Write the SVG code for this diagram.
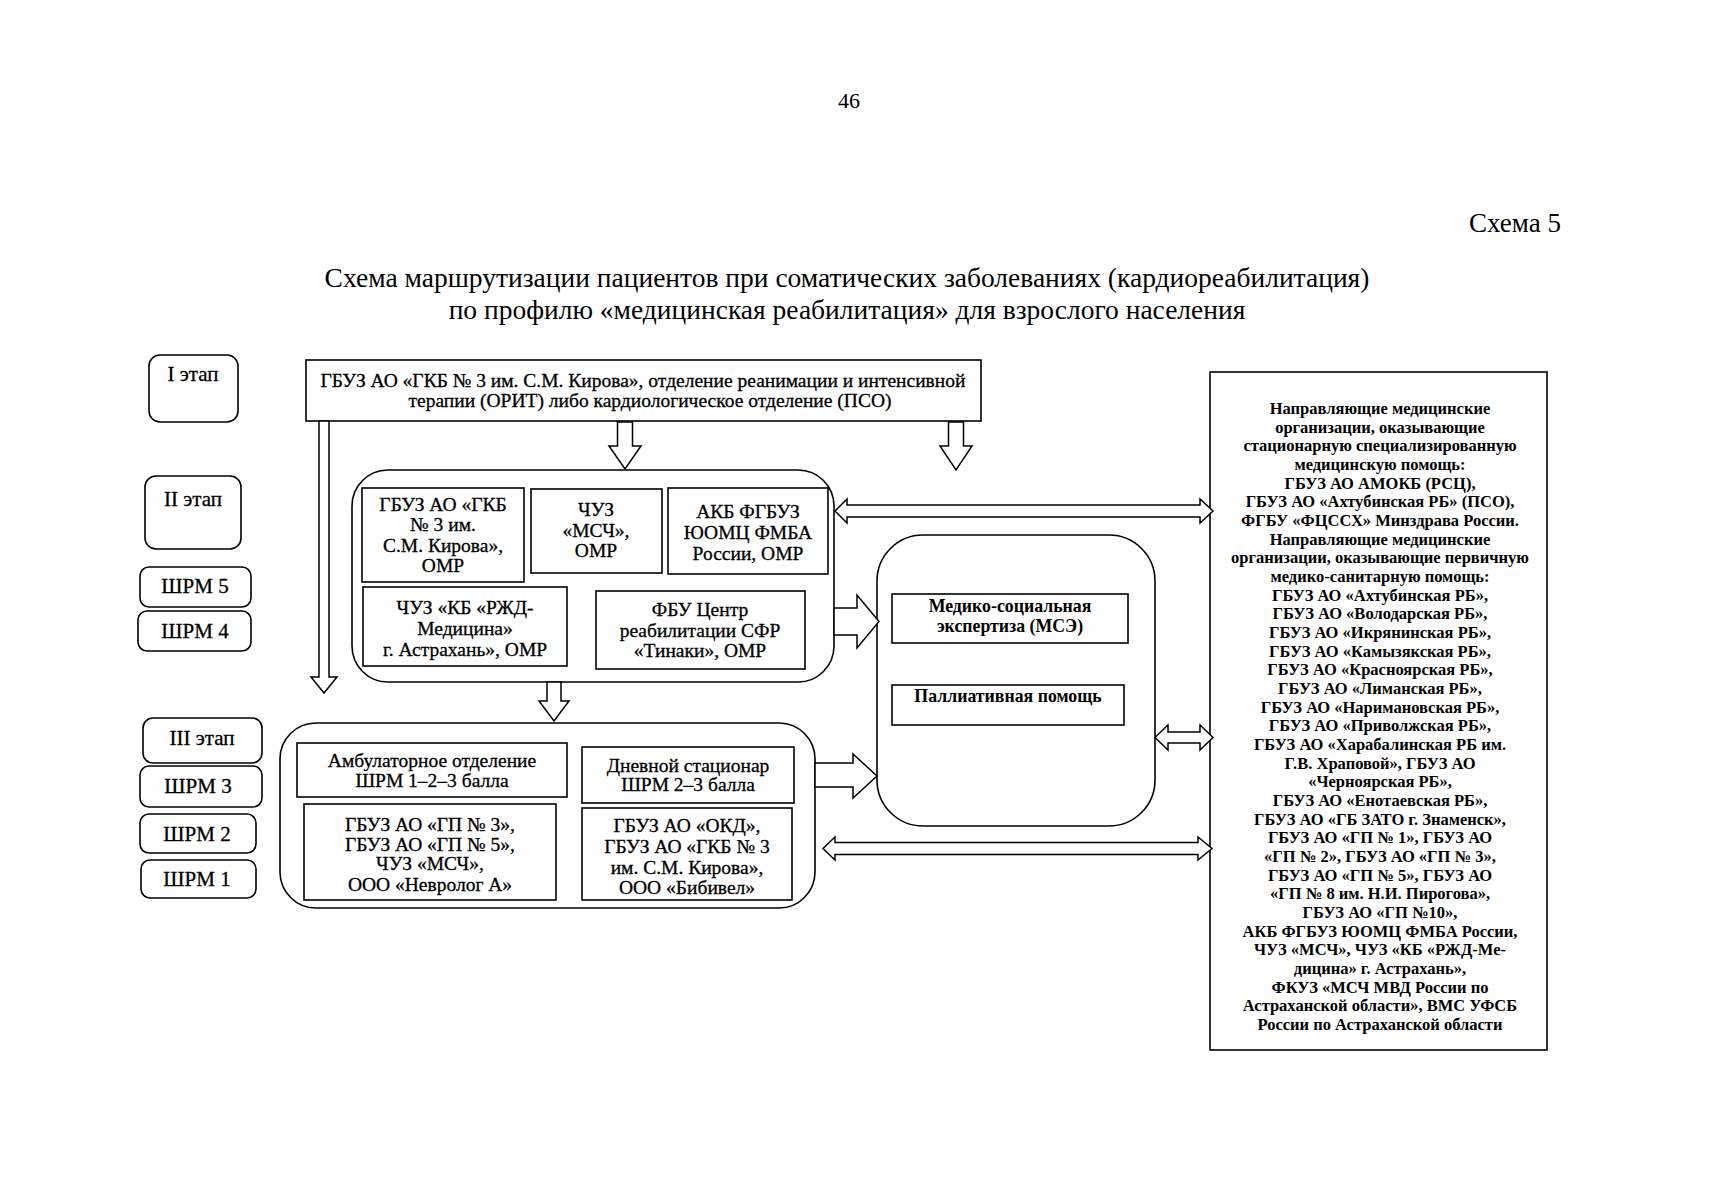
<svg xmlns="http://www.w3.org/2000/svg" width="1709" height="1200" viewBox="0 0 1709 1200">
<style>
text{font-family:"Liberation Serif","Times New Roman",serif;fill:#000;text-anchor:middle}
.t{font-size:19.5px;stroke:#000;stroke-width:0.3}
.s{font-size:21px;stroke:#000;stroke-width:0.3}
.b{font-size:17.8px;font-weight:bold}
.r{font-size:16.5px;font-weight:bold}
.box{fill:#fff;stroke:#000;stroke-width:1.6}
.arr{fill:#fff;stroke:#000;stroke-width:1.5;stroke-linejoin:miter}
</style>
<rect width="1709" height="1200" fill="#fff"/>
<text x="849" y="108" style="font-size:22px">46</text>
<text x="1561" y="232" style="font-size:27px;text-anchor:end">Схема 5</text>
<text x="847" y="287" style="font-size:27.5px">Схема маршрутизации пациентов при соматических заболеваниях (кардиореабилитация)</text>
<text x="847" y="319" style="font-size:27.5px">по профилю «медицинская реабилитация» для взрослого населения</text>

<g id="stages">
<g id="stage1"><rect class="box" x="149" y="355" width="89" height="67" rx="11"/><text class="s" x="193" y="381">I этап</text></g>
<g id="stage2"><rect class="box" x="145" y="476" width="96" height="73" rx="11"/><text class="s" x="193" y="506">II этап</text></g>
<g id="shrm5"><rect class="box" x="140" y="567" width="111" height="40" rx="9"/><text class="s" x="195" y="593">ШРМ 5</text></g>
<g id="shrm4"><rect class="box" x="138" y="611" width="113" height="40" rx="9"/><text class="s" x="195" y="638">ШРМ 4</text></g>
<g id="stage3"><rect class="box" x="143" y="718" width="119" height="45" rx="10"/><text class="s" x="202" y="745">III этап</text></g>
<g id="shrm3"><rect class="box" x="140" y="766" width="122" height="41" rx="9"/><text class="s" x="198" y="793">ШРМ 3</text></g>
<g id="shrm2"><rect class="box" x="140" y="814" width="116" height="39" rx="9"/><text class="s" x="197" y="841">ШРМ 2</text></g>
<g id="shrm1"><rect class="box" x="141" y="860" width="115" height="38" rx="9"/><text class="s" x="197" y="886">ШРМ 1</text></g>
</g>

<g id="top">
<rect class="box" x="306" y="360" width="675" height="61"/>
<text class="t" x="643" y="387">ГБУЗ АО «ГКБ № 3 им. С.М. Кирова», отделение реанимации и интенсивной</text>
<text class="t" x="650" y="407">терапии (ОРИТ) либо кардиологическое отделение (ПСО)</text>
</g>

<g id="stage2-group">
<rect class="box" x="352" y="470" width="482" height="212" rx="36"/>
<g id="gkb3"><rect class="box" x="362" y="488" width="162" height="94"/>
<text class="t" x="443" y="511">ГБУЗ АО «ГКБ</text><text class="t" x="443" y="531">№ 3 им.</text><text class="t" x="443" y="552">С.М. Кирова»,</text><text class="t" x="443" y="572">ОМР</text></g>
<g id="msch"><rect class="box" x="531" y="489" width="131" height="84"/>
<text class="t" x="596" y="516">ЧУЗ</text><text class="t" x="596" y="537">«МСЧ»,</text><text class="t" x="596" y="557">ОМР</text></g>
<g id="akb"><rect class="box" x="668" y="488" width="160" height="86"/>
<text class="t" x="748" y="518">АКБ ФГБУЗ</text><text class="t" x="748" y="539">ЮОМЦ ФМБА</text><text class="t" x="748" y="560">России, ОМР</text></g>
<g id="rzd"><rect class="box" x="363" y="587" width="204" height="79"/>
<text class="t" x="465" y="614">ЧУЗ «КБ «РЖД-</text><text class="t" x="465" y="635">Медицина»</text><text class="t" x="465" y="656">г. Астрахань», ОМР</text></g>
<g id="fbu"><rect class="box" x="596" y="591" width="209" height="78"/>
<text class="t" x="700" y="616">ФБУ Центр</text><text class="t" x="700" y="637">реабилитации СФР</text><text class="t" x="700" y="657">«Тинаки», ОМР</text></g>
</g>

<g id="stage3-group">
<rect class="box" x="280" y="723" width="535" height="185" rx="36"/>
<g id="amb"><rect class="box" x="297" y="743" width="270" height="54"/>
<text class="t" x="432" y="767">Амбулаторное отделение</text><text class="t" x="432" y="787">ШРМ 1–2–3 балла</text></g>
<g id="day"><rect class="box" x="582" y="747" width="212" height="56"/>
<text class="t" x="688" y="772">Дневной стационар</text><text class="t" x="688" y="791">ШРМ 2–3 балла</text></g>
<g id="gp"><rect class="box" x="304" y="804" width="252" height="96"/>
<text class="t" x="430" y="831">ГБУЗ АО «ГП № 3»,</text><text class="t" x="430" y="851">ГБУЗ АО «ГП № 5»,</text><text class="t" x="430" y="870">ЧУЗ «МСЧ»,</text><text class="t" x="430" y="891">ООО «Невролог А»</text></g>
<g id="okd"><rect class="box" x="582" y="808" width="210" height="92"/>
<text class="t" x="687" y="832">ГБУЗ АО «ОКД»,</text><text class="t" x="687" y="853">ГБУЗ АО «ГКБ № 3</text><text class="t" x="687" y="874">им. С.М. Кирова»,</text><text class="t" x="687" y="894">ООО «Бибивел»</text></g>
</g>

<g id="mse-group">
<rect class="box" x="877" y="535" width="278" height="291" rx="46"/>
<g id="mse"><rect class="box" x="892" y="594" width="236" height="49"/>
<text class="b" x="1010" y="612">Медико-социальная</text><text class="b" x="1010" y="632">экспертиза (МСЭ)</text></g>
<g id="pall"><rect class="box" x="892" y="685" width="232" height="40"/>
<text class="b" x="1008" y="702">Паллиативная помощь</text></g>
</g>

<g id="orgs">
<rect class="box" x="1210" y="372" width="337" height="678"/>
<text class="r" x="1380" y="414">Направляющие медицинские</text>
<text class="r" x="1380" y="432.7">организации, оказывающие</text>
<text class="r" x="1380" y="451.3">стационарную специализированную</text>
<text class="r" x="1380" y="470">медицинскую помощь:</text>
<text class="r" x="1380" y="488.7">ГБУЗ АО АМОКБ (РСЦ),</text>
<text class="r" x="1380" y="507.3">ГБУЗ АО «Ахтубинская РБ» (ПСО),</text>
<text class="r" x="1380" y="526">ФГБУ «ФЦССХ» Минздрава России.</text>
<text class="r" x="1380" y="544.7">Направляющие медицинские</text>
<text class="r" x="1380" y="563.3">организации, оказывающие первичную</text>
<text class="r" x="1380" y="582">медико-санитарную помощь:</text>
<text class="r" x="1380" y="600.7">ГБУЗ АО «Ахтубинская РБ»,</text>
<text class="r" x="1380" y="619.3">ГБУЗ АО «Володарская РБ»,</text>
<text class="r" x="1380" y="638">ГБУЗ АО «Икрянинская РБ»,</text>
<text class="r" x="1380" y="656.7">ГБУЗ АО «Камызякская РБ»,</text>
<text class="r" x="1380" y="675.3">ГБУЗ АО «Красноярская РБ»,</text>
<text class="r" x="1380" y="694">ГБУЗ АО «Лиманская РБ»,</text>
<text class="r" x="1380" y="712.7">ГБУЗ АО «Наримановская РБ»,</text>
<text class="r" x="1380" y="731.3">ГБУЗ АО «Приволжская РБ»,</text>
<text class="r" x="1380" y="750">ГБУЗ АО «Харабалинская РБ им.</text>
<text class="r" x="1380" y="768.7">Г.В. Храповой», ГБУЗ АО</text>
<text class="r" x="1380" y="787.3">«Черноярская РБ»,</text>
<text class="r" x="1380" y="806">ГБУЗ АО «Енотаевская РБ»,</text>
<text class="r" x="1380" y="824.7">ГБУЗ АО «ГБ ЗАТО г. Знаменск»,</text>
<text class="r" x="1380" y="843.3">ГБУЗ АО «ГП № 1», ГБУЗ АО</text>
<text class="r" x="1380" y="862">«ГП № 2», ГБУЗ АО «ГП № 3»,</text>
<text class="r" x="1380" y="880.7">ГБУЗ АО «ГП № 5», ГБУЗ АО</text>
<text class="r" x="1380" y="899.3">«ГП № 8 им. Н.И. Пирогова»,</text>
<text class="r" x="1380" y="918">ГБУЗ АО «ГП №10»,</text>
<text class="r" x="1380" y="936.7">АКБ ФГБУЗ ЮОМЦ ФМБА России,</text>
<text class="r" x="1380" y="955.3">ЧУЗ «МСЧ», ЧУЗ «КБ «РЖД-Ме-</text>
<text class="r" x="1380" y="974">дицина» г. Астрахань»,</text>
<text class="r" x="1380" y="992.7">ФКУЗ «МСЧ МВД России по</text>
<text class="r" x="1380" y="1011.3">Астраханской области», ВМС УФСБ</text>
<text class="r" x="1380" y="1030">России по Астраханской области</text>
</g>

<g id="connectors">
<polygon class="arr" points="617.5,422 632.5,422 632.5,446 641,446 625,469 609,446 617.5,446"/>
<polygon class="arr" points="948.5,422 963.5,422 963.5,446 972,446 956,470 940,446 948.5,446"/>
<polygon class="arr" points="319,421 329,421 329,677 337,677 324,693 311,677 319,677"/>
<polygon class="arr" points="547,682 561,682 561,701 569,701 554,721 539,701 547,701"/>
<polygon class="arr" points="834,608 857,608 857,595 879,621.5 857,648 857,635 834,635"/>
<polygon class="arr" points="815,763 853,763 853,754 877,776 853,798 853,787 815,787"/>
<polygon class="arr" points="835,511 847,499 847,505 1200,505 1200,499 1213,511 1200,523 1200,517 847,517 847,523"/>
<polygon class="arr" points="1155,737.5 1168,725 1168,732 1200,732 1200,725 1213,737.5 1200,750 1200,743 1168,743 1168,750"/>
<polygon class="arr" points="823,848.5 835,837 835,842.5 1198,842.5 1198,837 1212,848.5 1198,860 1198,854.5 835,854.5 835,860"/>
</g>
</svg>
